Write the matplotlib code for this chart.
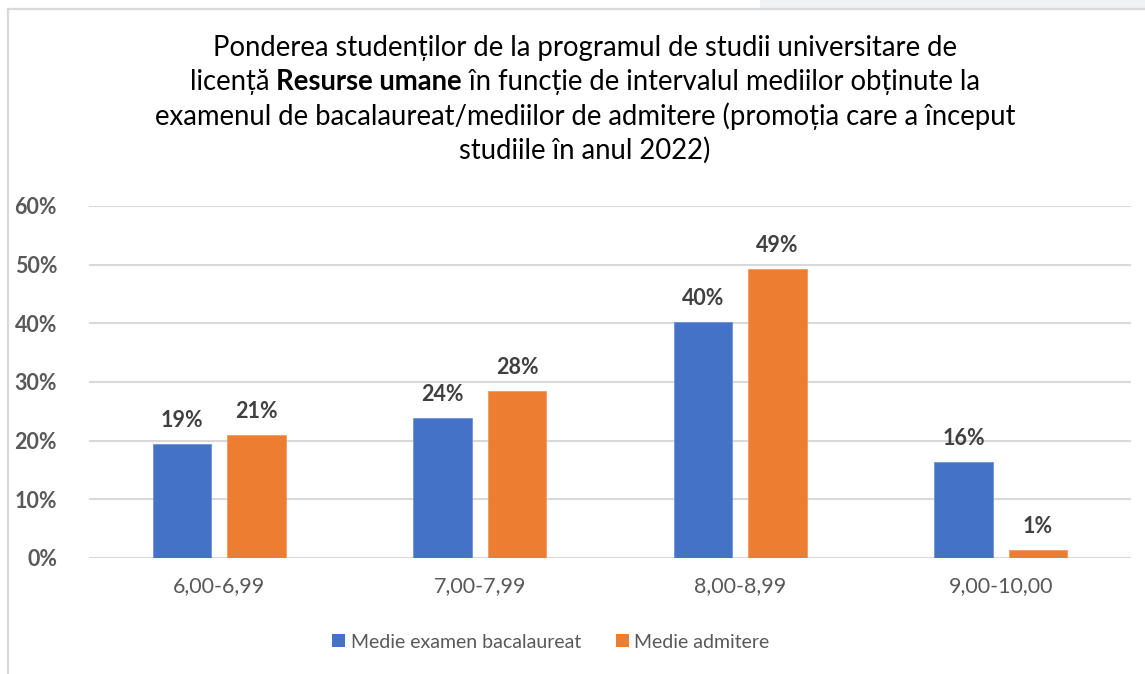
import matplotlib
matplotlib.use("Agg")
import matplotlib.pyplot as plt
from matplotlib.patches import Patch, Rectangle
from matplotlib.lines import Line2D
import numpy as np

# Data
categories = ["6,00-6,99", "7,00-7,99", "8,00-8,99", "9,00-10,00"]
series_names = ["Medie examen bacalaureat", "Medie admitere"]
bac_values = [19.4, 23.9, 40.3, 16.4]
adm_values = [20.9, 28.4, 49.3, 1.4]
yticks = [0, 10, 20, 30, 40, 50, 60]

BLUE = "#4472C4"
ORANGE = "#ED7D31"
AXIS_TXT = "#595959"
LABEL_TXT = "#404040"
GRID = "#D9D9D9"
FONT = "Lato"

plt.rcParams["font.family"] = [FONT, "DejaVu Sans"]

W, H = 1145, 674
fig = plt.figure(figsize=(W / 100, H / 100), dpi=100)
fig.patch.set_facecolor("white")

# Chart frame (left and top border) plus the light page strip above it
fig.add_artist(Rectangle((760 / W, 1 - 8 / H), (W - 760) / W, 8 / H,
                         transform=fig.transFigure, facecolor="#EEF2F5",
                         edgecolor="none"))
fig.add_artist(Line2D([8 / W, 8 / W], [0, 1 - 8.5 / H], transform=fig.transFigure,
                      color=GRID, lw=1.6))
fig.add_artist(Line2D([8 / W, 1], [1 - 8.5 / H, 1 - 8.5 / H], transform=fig.transFigure,
                      color=GRID, lw=1.6))

ax = fig.add_axes([89 / W, 1 - 558 / H, (1131 - 89) / W, (558 - 206) / H])
x = np.arange(len(categories))
bw = 0.223
off = 0.143
b1 = ax.bar(x - off, bac_values, bw, color=BLUE, edgecolor="#6F93D6", linewidth=0.6, zorder=3)
b2 = ax.bar(x + off, adm_values, bw, color=ORANGE, edgecolor="#F29B63", linewidth=0.6, zorder=3)

for bars, vals in ((b1, bac_values), (b2, adm_values)):
    for rect, v in zip(bars, vals):
        ax.annotate(f"{v:.0f}%", (rect.get_x() + rect.get_width() / 2, v),
                    xytext=(0, 13), textcoords="offset pixels",
                    ha="center", va="bottom", fontsize=15.5, fontweight="bold",
                    color=LABEL_TXT)

ax.set_xlim(-0.5, len(categories) - 0.5)
ax.set_ylim(0, 60)
ax.set_yticks(yticks)
ax.set_yticklabels([f"{t}%" for t in yticks], fontsize=15.5, fontweight="bold", color=AXIS_TXT)
ax.set_xticks(x)
ax.set_xticklabels(categories, fontsize=15.5, color=AXIS_TXT)
ax.tick_params(axis="both", length=0)
ax.tick_params(axis="y", pad=23)
ax.tick_params(axis="x", pad=13)
ax.grid(axis="y", color=GRID, lw=1.5, zorder=0)
for s in ax.spines.values():
    s.set_visible(False)

# Title with a bold phrase inside the second line
title_lines = [
    [("Ponderea studenților de la programul de studii universitare de", "normal")],
    [("licență ", "normal"), ("Resurse umane", "bold"),
     (" în funcție de intervalul mediilor obținute la", "normal")],
    [("examenul de bacalaureat/mediilor de admitere (promoția care a început", "normal")],
    [("studiile în anul 2022)", "normal")],
]
title_y = [48, 82, 116, 150]
title_size = 19.8
cx = 585
renderer = fig.canvas.get_renderer()
for parts, yp in zip(title_lines, title_y):
    texts = []
    for s, w in parts:
        t = fig.text(0, 1 - yp / H, s, fontsize=title_size, fontweight=w,
                     color="black", ha="left", va="center")
        texts.append(t)
    widths = [t.get_window_extent(renderer).width for t in texts]
    total = sum(widths)
    xpos = cx - total / 2
    for t, wd in zip(texts, widths):
        t.set_x(xpos / W)
        xpos += wd

handles = [Patch(facecolor=BLUE, edgecolor="none"), Patch(facecolor=ORANGE, edgecolor="none")]
leg = fig.legend(handles, series_names, loc="center", bbox_to_anchor=(551 / W, 1 - 642 / H),
                 ncol=2, frameon=False, fontsize=14, handlelength=0.65, handleheight=0.65,
                 handletextpad=0.3, columnspacing=1.8, labelcolor=AXIS_TXT)

fig.savefig("out.png", dpi=100, facecolor="white")
